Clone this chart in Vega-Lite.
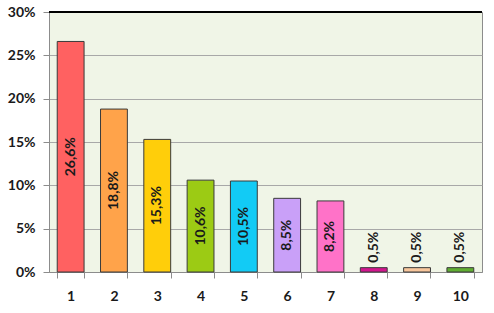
{
  "$schema": "https://vega.github.io/schema/vega-lite/v6.json",
  "autosize": "none",
  "width": 433,
  "height": 260,
  "padding": {"left": 49, "top": 12, "right": 12, "bottom": 41},
  "background": "white",
  "config": {
    "locale": {"number": {"decimal": ",", "thousands": ".", "grouping": [3], "currency": ["", " €"]}},
    "view": {"fill": "#F0F5E7", "stroke": "#8C8C8C", "strokeWidth": 1},
    "font": "Lato"
  },
  "data": {
    "values": [
      {"cat": "1", "v": 0.266, "color": "#FF6161"},
      {"cat": "2", "v": 0.188, "color": "#FFA34A"},
      {"cat": "3", "v": 0.153, "color": "#FFCE0A"},
      {"cat": "4", "v": 0.106, "color": "#9CCB14"},
      {"cat": "5", "v": 0.105, "color": "#12CBF5"},
      {"cat": "6", "v": 0.085, "color": "#C9A0F8"},
      {"cat": "7", "v": 0.082, "color": "#FF72C8"},
      {"cat": "8", "v": 0.005, "color": "#D2158E"},
      {"cat": "9", "v": 0.005, "color": "#F8C69C"},
      {"cat": "10", "v": 0.005, "color": "#60AE32"}
    ]
  },
  "layer": [
    {
      "mark": {"type": "bar", "stroke": "#3a3a3a", "strokeWidth": 1},
      "encoding": {
        "x": {
          "field": "cat", "type": "ordinal", "sort": null, "title": null,
          "scale": {"paddingInner": 0.38, "paddingOuter": 0.19},
          "axis": {
            "labelAngle": 0, "labelFont": "Lato", "labelFontSize": 14, "labelFontWeight": "bold",
            "labelColor": "#1a1a1a", "labelPadding": 11, "tickBand": "extent", "tickSize": 6,
            "tickColor": "#8C8C8C", "domainColor": "#8C8C8C", "grid": false
          }
        },
        "y": {
          "field": "v", "type": "quantitative", "title": null,
          "scale": {"domain": [0, 0.3]},
          "axis": {
            "format": ".0%", "values": [0, 0.05, 0.1, 0.15, 0.2, 0.25, 0.3],
            "labelFont": "Lato", "labelFontSize": 14, "labelFontWeight": "bold", "labelColor": "#1a1a1a",
            "labelPadding": 8, "tickSize": 6, "tickColor": "#8C8C8C", "domainColor": "#8C8C8C",
            "gridColor": "#A8A8A8", "gridWidth": 1
          }
        },
        "color": {"field": "color", "type": "nominal", "scale": null}
      }
    },
    {
      "transform": [{"filter": "datum.v > 0.02"}, {"calculate": "datum.v / 2", "as": "mid"}],
      "mark": {"type": "text", "angle": 270, "align": "center", "baseline": "middle", "font": "Lato", "fontSize": 14, "fontWeight": "bold", "color": "#1a1a1a"},
      "encoding": {
        "x": {"field": "cat", "type": "ordinal", "sort": null},
        "y": {"field": "mid", "type": "quantitative"},
        "text": {"field": "v", "type": "quantitative", "format": ".1%"}
      }
    },
    {
      "transform": [{"filter": "datum.v <= 0.02"}],
      "mark": {"type": "text", "angle": 270, "align": "left", "baseline": "middle", "dx": 5, "font": "Lato", "fontSize": 14, "fontWeight": "bold", "color": "#1a1a1a"},
      "encoding": {
        "x": {"field": "cat", "type": "ordinal", "sort": null},
        "y": {"field": "v", "type": "quantitative"},
        "text": {"field": "v", "type": "quantitative", "format": ".1%"}
      }
    },
    {
      "mark": {"type": "rule", "color": "black", "strokeWidth": 1.5},
      "encoding": {"y": {"datum": 0.3}}
    }
  ]
}
